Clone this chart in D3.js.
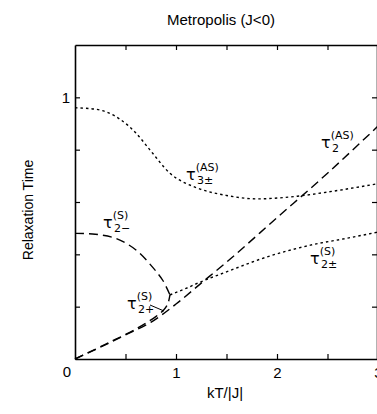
<!DOCTYPE html>
<html><head><meta charset="utf-8">
<script src="https://cdn.jsdelivr.net/npm/d3@7"></script>
<style>
body{margin:0;background:#fff;}
svg{display:block;font-family:"Liberation Sans",Arial,sans-serif;}
</style></head><body>
<svg id="c" width="377" height="414"></svg>
<script>
// Data
const tau3pmAS = [[0,0.96],[0.2,0.955],[0.45,0.915],[0.6,0.865],[0.74,0.80],[0.94,0.71],[1.2,0.655],[1.5,0.625],[1.8,0.612],[2.2,0.622],[2.5,0.638],[3.0,0.67]];
const tau2AS = [[0,0],[0.25,0.045],[0.5,0.092],[0.75,0.14],[1.0,0.21],[1.25,0.29],[1.5,0.37],[2.0,0.54],[2.5,0.71],[3.0,0.89]];
const tau2mS = [[0,0.48],[0.2,0.477],[0.41,0.46],[0.61,0.415],[0.77,0.35],[0.87,0.30],[0.94,0.245]];
const tau2pS = [[0,0],[0.3,0.056],[0.6,0.114],[0.8,0.162],[0.88,0.188],[0.92,0.212],[0.94,0.245]];
const tau2pmS = [[0.94,0.245],[1.1,0.27],[1.24,0.294],[1.5,0.333],[1.9,0.39],[2.33,0.435],[2.7,0.462],[3.0,0.485]];
const xTicks = [0.5,1,1.5,2,2.5];
const yTicks = [0.2,0.4,0.6,0.8,1.0];

const svg = d3.select("#c");
const x = d3.scaleLinear().domain([0,3]).range([75,378]);
const y = d3.scaleLinear().domain([0,1.2]).range([359,45]);

// frame axes
const fmtX = d => Number.isInteger(d) ? String(d) : "";
const fmtY = d => Math.abs(d-1)<1e-9 ? "1" : "";
const gB = svg.append("g").attr("transform","translate(0,359)")
  .call(d3.axisBottom(x).tickValues([...xTicks,3]).tickSizeInner(-5).tickSizeOuter(0).tickPadding(8).tickFormat(fmtX));
const gT = svg.append("g").attr("transform","translate(0,45)")
  .call(d3.axisTop(x).tickValues(xTicks).tickSizeInner(-5).tickSizeOuter(0).tickFormat(""));
const gL = svg.append("g").attr("transform","translate(75,0)")
  .call(d3.axisLeft(y).tickValues(yTicks).tickSizeInner(-5).tickSizeOuter(0).tickPadding(5).tickFormat(fmtY));
const gR = svg.append("g").attr("transform","translate(377,0)")
  .call(d3.axisRight(y).tickValues(yTicks).tickSizeInner(-5).tickSizeOuter(0).tickFormat(""));
[gB,gT,gL,gR].forEach(g=>{
  g.select(".domain").attr("stroke","#000").attr("stroke-width",1.6);
  g.selectAll(".tick line").attr("stroke","#000").attr("stroke-width",1.2);
  g.selectAll(".tick text").attr("font-size",15).attr("fill","#000").attr("font-family","Liberation Sans, Arial, sans-serif");
});
svg.append("text").attr("x",67).attr("y",377).attr("text-anchor","middle").attr("font-size",15).text("0");

const line = d3.line().x(d=>x(d[0])).y(d=>y(d[1])).curve(d3.curveMonotoneX);
const lineN = d3.line().x(d=>x(d[0])).y(d=>y(d[1])).curve(d3.curveCatmullRom);
function draw(data, dash, gen){
  svg.append("path").datum(data).attr("d",(gen||line)).attr("fill","none")
    .attr("stroke","#000").attr("stroke-width",1.4).attr("stroke-dasharray",dash);
}
draw(tau3pmAS,"2.5,3");
draw(tau2AS,"9,5");
draw(tau2mS,"9,5",lineN);
draw(tau2pS,"9,5",lineN);
draw(tau2pmS,"2.5,3");

// curve labels
function lab(px,py,sub,sup){
  const t = svg.append("text").attr("x",px).attr("y",py).attr("font-size",16).attr("font-family","DejaVu Sans, sans-serif");
  t.append("tspan").text("τ");
  t.append("tspan").attr("font-size",11).attr("dy",-9).text(sup);
  t.append("tspan").attr("font-size",11).attr("x",px+11).attr("dy",13).text(sub);
}
lab(186,180,"3±","(AS)");
lab(321,148,"2","(AS)");
lab(103,228,"2−","(S)");
lab(127,309,"2+","(S)");
lab(310,264,"2±","(S)");
svg.append("line").attr("x1",150).attr("y1",305).attr("x2",164).attr("y2",311).attr("stroke","#000").attr("stroke-width",1);

// titles
svg.append("text").attr("x",221).attr("y",25).attr("text-anchor","middle").attr("font-size",15).text("Metropolis (J<0)");
svg.append("text").attr("x",225).attr("y",398).attr("text-anchor","middle").attr("font-size",15).text("kT/|J|");
svg.append("text").attr("transform","translate(33,210) rotate(-90)").attr("text-anchor","middle").attr("font-size",14).text("Relaxation Time");
</script></body></html>
